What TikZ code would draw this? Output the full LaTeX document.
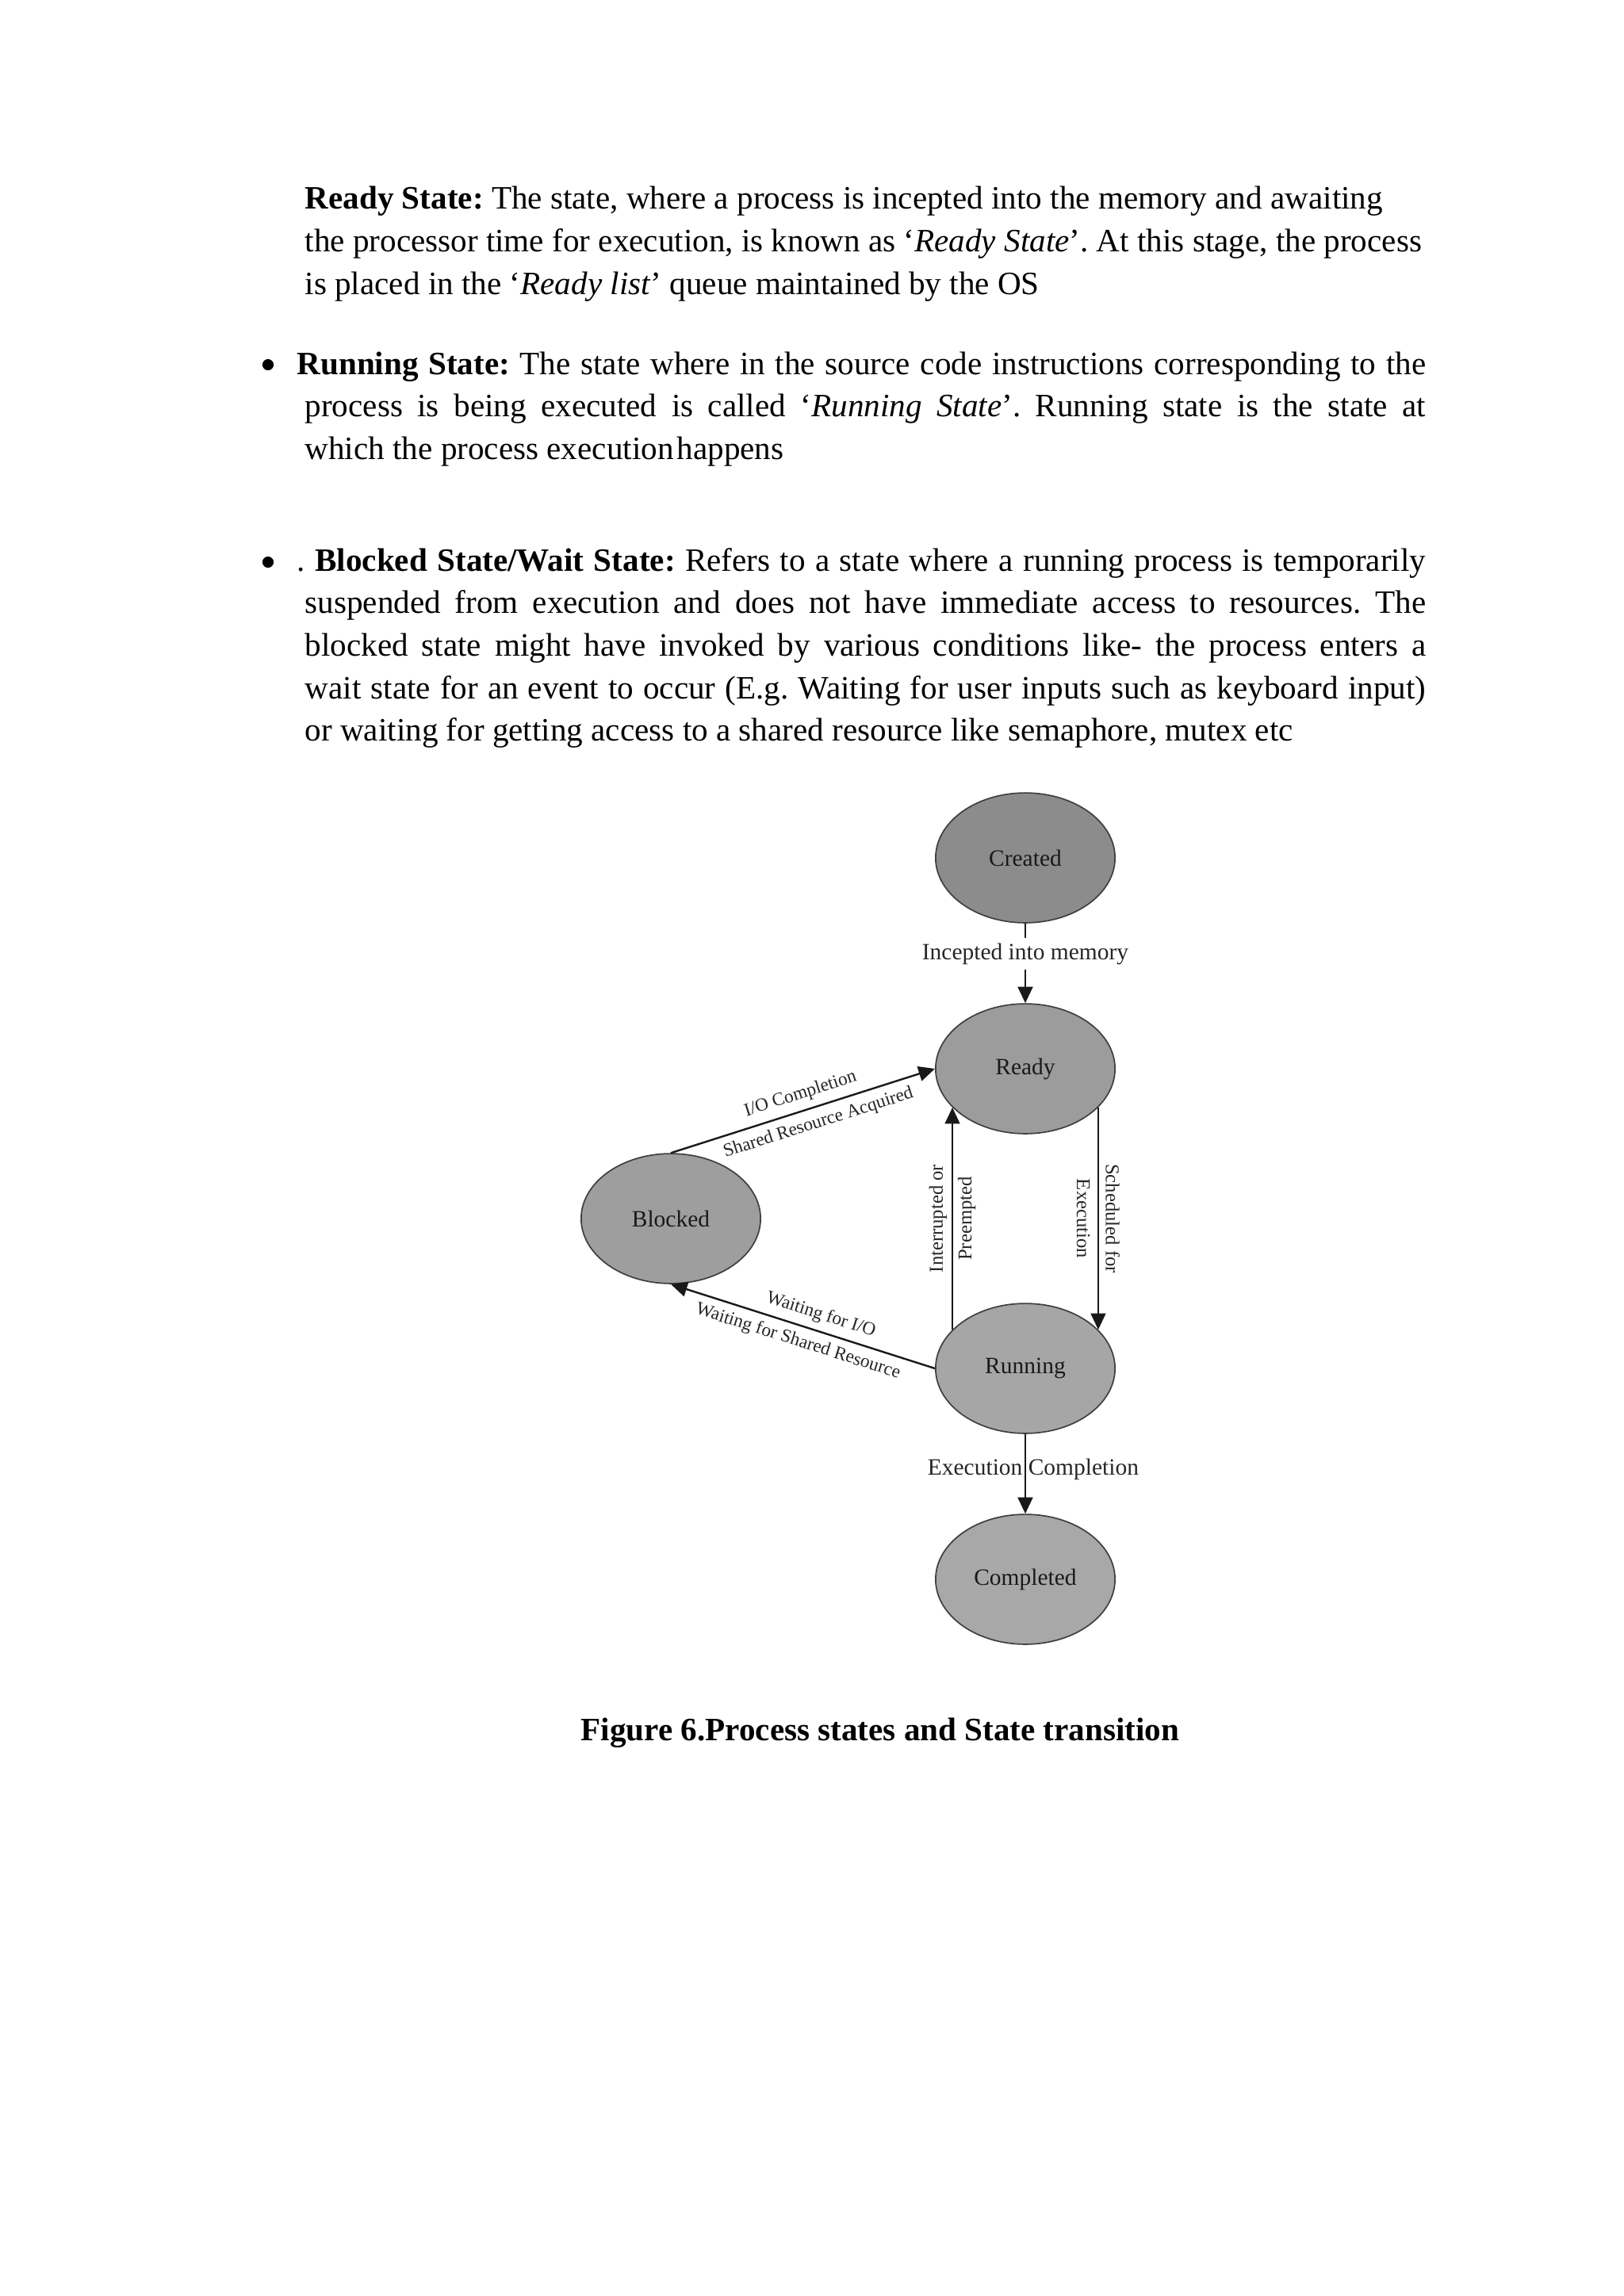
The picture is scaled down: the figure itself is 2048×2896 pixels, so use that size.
\documentclass[tikz,border=0pt]{standalone}
\usepackage{fontspec}
\setmainfont{Liberation Serif}
\usetikzlibrary{shapes.geometric,arrows.meta}
\begin{document}
\frenchspacing
\begin{tikzpicture}[x=0.1025390625mm,y=-0.1025390625mm,
  pstate/.style={ellipse, draw=black!75, line width=0.5pt, minimum width=23.2mm, minimum height=16.8mm, inner sep=0pt, text=black!90, font=\fontsize{8.6}{10}\selectfont},
  arr/.style={line width=0.7pt, draw=black!90, -{Triangle[length=6pt,width=5.5pt]}},
  body/.style={anchor=base west, inner sep=0pt, font=\fontsize{12}{14}\selectfont\frenchspacing},
  bulletmark/.style={circle, fill=black, inner sep=0pt, minimum size=1.45mm},
  lab/.style={font=\fontsize{8.6}{10}\selectfont, inner sep=2pt, text=black!85},
  vlab/.style={font=\fontsize{7.2}{10.6}\selectfont, align=center, inner sep=0pt, text=black!85},
  dlab/.style={font=\fontsize{6.8}{8}\selectfont, inner sep=2.6pt, text=black!85},
]
\fill[white] (0,0) rectangle (2048,2896);
\useasboundingbox (0,0) rectangle (2048,2896);

% ---------- body text ----------
\node[body] (r1) at (384,263) {\textbf{Ready State:} The state, where a process is incepted into the memory and awaiting};
\node[body] (r2) at (384,317) {the processor time for execution, is known as ‘\textit{Ready State}’. At this stage, the process};
\node[body] (r3) at (384,371) {is placed in the ‘\textit{Ready list}’ queue maintained by the OS};

\node[bulletmark] (bul1) at (338,460) {};
\node[body] (u1) at (374,472) {\makebox[415.3pt][s]{\textbf{Running State:} The state where in the source code instructions corresponding to the}};
\node[body] (u2) at (384,525.5) {\makebox[412.4pt][s]{process is being executed is called ‘\textit{Running State}’. Running state is the state at}};
\node[body] (u3) at (384,579) {which the process execution\hspace{0.1em}happens};

\node[bulletmark] (bul2) at (338,709) {};
\node[body] (w1) at (374,720) {\makebox[415.3pt][s]{. \textbf{Blocked State/Wait State:} Refers to a state where a running process is temporarily}};
\node[body] (w2) at (384,773.7) {\makebox[412.4pt][s]{suspended from execution and does not have immediate access to resources. The}};
\node[body] (w3) at (384,827.4) {\makebox[412.4pt][s]{blocked state might have invoked by various conditions like- the process enters a}};
\node[body] (w4) at (384,881) {\makebox[412.4pt][s]{wait state for an event to occur (E.g. Waiting for user inputs such as keyboard input)}};
\node[body] (w5) at (384,934.8) {or waiting for getting access to a shared resource like semaphore, mutex etc};

% ---------- states ----------
\node[pstate, fill=black!45] (created) at (1293,1082) {Created};
\node[pstate, fill=black!39] (ready) at (1293,1348) {Ready};
\node[pstate, fill=black!38] (blocked) at (846,1537) {Blocked};
\node[pstate, fill=black!35] (running) at (1293,1726) {Running};
\node[pstate, fill=black!34] (completed) at (1293,1992) {Completed};

% ---------- transitions ----------
\draw[arr] (created) -- (ready) node[pos=0.38, fill=white, lab] (lincepted) {Incepted into memory};
\draw[arr] (ready.-28) -- (running.28) node[midway, vlab, rotate=-90] (lsched) {Scheduled for\\Execution};
\draw[arr] (running.152) -- (ready.208) node[midway, vlab, rotate=90] (linter) {Interrupted or\\Preempted};
\draw[arr] (blocked.north) -- (ready.west)
  node[pos=0.51, sloped, above, dlab] (lio) {I/O Completion}
  node[pos=0.54, sloped, below, dlab] (lshared) {Shared Resource Acquired};
\draw[arr] (running.west) -- (blocked.south);
\path (blocked.south) -- (running.west)
  node[pos=0.55, sloped, above, dlab] (lwio) {Waiting for I/O}
  node[pos=0.50, sloped, below, dlab] (lwsh) {Waiting for Shared Resource};
\draw[arr] (running) -- (completed) node[pos=0.44, lab, inner sep=0pt, xshift=2.9pt] (lexec) {Execution Completion};

% ---------- caption ----------
\node[anchor=base, inner sep=0pt, font=\fontsize{12}{14}\selectfont\bfseries] (caption) at (1110,2195) {Figure 6.Process states and State transition};
\end{tikzpicture}
\end{document}
